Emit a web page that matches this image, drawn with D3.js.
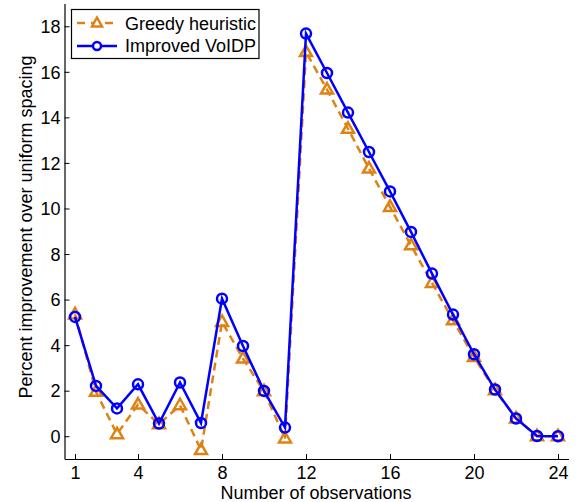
<!DOCTYPE html>
<html>
<head>
<meta charset="utf-8">
<script src="https://cdn.jsdelivr.net/npm/d3@7"></script>
<style>
  html, body { margin: 0; padding: 0; background: #fff; }
  svg { display: block; }
  text { font-family: "Liberation Sans", Arial, Helvetica, sans-serif; fill: #000; }
</style>
</head>
<body>
<svg id="chart" width="578" height="502"></svg>
<script>
// ---- data ----
const observations = d3.range(1, 25);
const greedyHeuristic = [5.35, 1.95, 0.09, 1.39, 0.53, 1.36, -0.61, 5.02, 3.41, 1.97, -0.1, 16.87,
  15.22, 13.5, 11.75, 10.07, 8.38, 6.73, 5.09, 3.48, 2.02, 0.78, 0.0, 0.0];
const improvedVoIDP = [5.24, 2.21, 1.22, 2.28, 0.56, 2.36, 0.58, 6.04, 3.96, 1.99, 0.38, 17.68,
  15.95, 14.21, 12.48, 10.75, 8.97, 7.14, 5.34, 3.6, 2.05, 0.78, 0.01, 0.0];
const xTicks = [1, 4, 8, 12, 16, 20, 24];
const yTicks = [0, 2, 4, 6, 8, 10, 12, 14, 16, 18];
const seriesNames = ["Greedy heuristic", "Improved VoIDP"];

// ---- layout ----
const svg = d3.select("#chart");
const orange = "#df8214";
const blue = "#0000ff";
const FS = 18;
const x = d3.scaleLinear().domain([0.5, 24.5]).range([64.5, 568.5]);
const y = d3.scaleLinear().domain([-1, 19]).range([459, 3.5]);

// axes (ticks inward)
const xAxis = d3.axisBottom(x).tickValues(xTicks).tickSizeInner(-5).tickSizeOuter(0);
const yAxis = d3.axisLeft(y).tickValues(yTicks).tickSizeInner(-5).tickSizeOuter(0);

const gx = svg.append("g").attr("transform", `translate(0,${y(-1)})`).call(xAxis);
const gy = svg.append("g").attr("transform", `translate(${x(0.5)},0)`).call(yAxis);
[gx, gy].forEach(g => {
  g.attr("font-size", FS).attr("font-family", "Liberation Sans, Arial, sans-serif");
  g.select(".domain").attr("stroke", "#000").attr("stroke-width", 1.2);
  g.selectAll(".tick line").attr("stroke", "#000").attr("stroke-width", 1);
  g.selectAll(".tick text").attr("fill", "#000");
});
gx.selectAll(".tick text").attr("dy", 0).attr("y", 20);
gy.selectAll(".tick text").attr("x", -4).attr("dy", "0.35em");

// axis labels
svg.append("text").attr("x", 316).attr("y", 499).attr("text-anchor", "middle")
  .attr("font-size", FS).text("Number of observations");
svg.append("text").attr("transform", "translate(32,227) rotate(-90)").attr("text-anchor", "middle")
  .attr("font-size", FS).text("Percent improvement over uniform spacing");

// lines
const line = d3.line().x((d, i) => x(observations[i])).y(d => y(d));
const triPath = "M0,-6.5L6,4L-6,4Z";

svg.append("path").datum(greedyHeuristic).attr("d", line)
  .attr("fill", "none").attr("stroke", orange).attr("stroke-width", 2.5)
  .attr("stroke-dasharray", "8,5");
svg.append("g").selectAll("path").data(greedyHeuristic).join("path")
  .attr("d", triPath)
  .attr("transform", (d, i) => `translate(${x(observations[i])},${y(d)})`)
  .attr("fill", "none").attr("stroke", orange).attr("stroke-width", 2.5);

svg.append("path").datum(improvedVoIDP).attr("d", line)
  .attr("fill", "none").attr("stroke", blue).attr("stroke-width", 2.5);
svg.append("g").selectAll("circle").data(improvedVoIDP).join("circle")
  .attr("cx", (d, i) => x(observations[i])).attr("cy", d => y(d)).attr("r", 5)
  .attr("fill", "none").attr("stroke", blue).attr("stroke-width", 2.5);

// legend
const lg = svg.append("g");
lg.append("rect").attr("x", 71.5).attr("y", 9.5).attr("width", 187.5).attr("height", 49)
  .attr("fill", "#fff").attr("stroke", "#000").attr("stroke-width", 1.2);
// greedy row
lg.append("line").attr("x1", 77).attr("x2", 117).attr("y1", 23).attr("y2", 23)
  .attr("stroke", orange).attr("stroke-width", 2.5).attr("stroke-dasharray", "8,6");
lg.append("path").attr("d", "M0,-5.5L5,3.5L-5,3.5Z").attr("transform", "translate(97,23)")
  .attr("fill", "#fff").attr("stroke", orange).attr("stroke-width", 2.5);
lg.append("text").attr("x", 125).attr("y", 29.5).attr("font-size", FS).text(seriesNames[0]);
// blue row
lg.append("line").attr("x1", 77).attr("x2", 117).attr("y1", 46).attr("y2", 46)
  .attr("stroke", blue).attr("stroke-width", 2.5);
lg.append("circle").attr("cx", 97).attr("cy", 46).attr("r", 4)
  .attr("fill", "#fff").attr("stroke", blue).attr("stroke-width", 2.5);
lg.append("text").attr("x", 125).attr("y", 52).attr("font-size", FS).text(seriesNames[1]);
</script>
</body>
</html>
